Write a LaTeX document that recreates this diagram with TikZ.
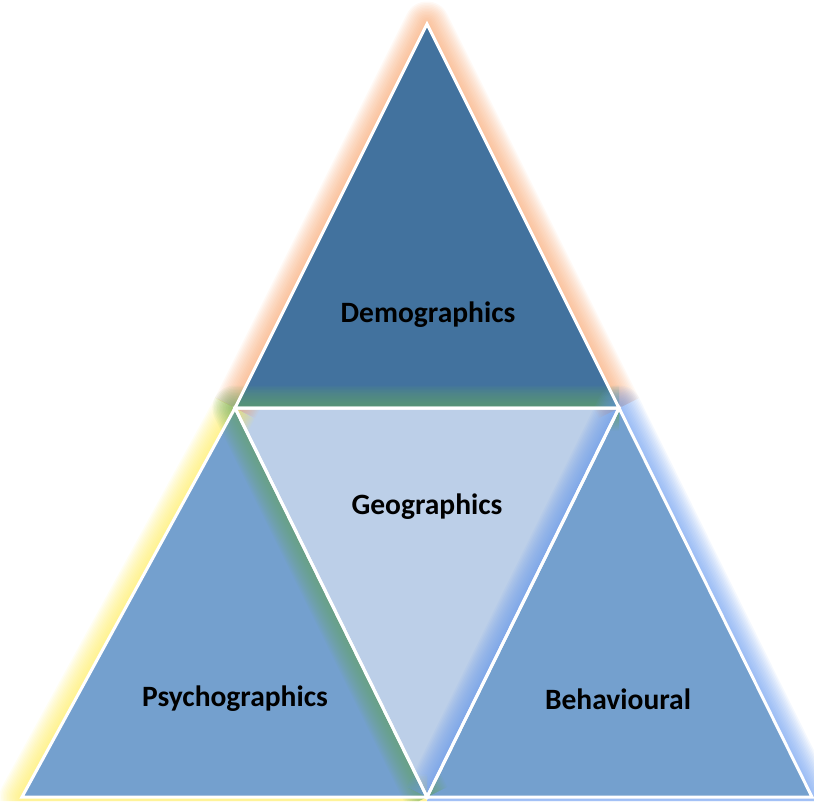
\documentclass[tikz,border=0pt]{standalone}
\usepackage{fontspec}
\setmainfont{Carlito}
\definecolor{topblue}{RGB}{66,114,158}
\definecolor{sideblue}{RGB}{116,160,206}
\definecolor{midblue}{RGB}{188,207,232}
\definecolor{glowor}{RGB}{248,165,110}
\definecolor{glowye}{RGB}{255,236,90}
\definecolor{glowgr}{RGB}{105,172,105}
\definecolor{glowbl}{RGB}{105,155,240}
\tikzset{
  tri/.style={line width=3pt, draw=white, line join=miter},
  lbl/.style={font=\fontsize{29.5}{34}\selectfont\bfseries, text=black},
}
\newcommand{\myglow}[2]{%
  \foreach \w in {3,6,...,45} {
    \draw[#1, opacity=0.07, line width=\w pt, line join=round, line cap=butt] #2;
  }%
}
\begin{document}
\begin{tikzpicture}[x=1pt,y=-1pt]
\useasboundingbox (0,0) rectangle (814,801);
\coordinate (P) at (427,24);
\coordinate (L) at (235,408);
\coordinate (R) at (619,408);
\coordinate (BL) at (22,797);
\coordinate (BM) at (427,797);
\coordinate (BR) at (812,797);
% fills
\fill[topblue] (P) -- (L) -- (R) -- cycle;
\fill[midblue] (L) -- (BM) -- (R) -- cycle;
\fill[sideblue] (L) -- (BL) -- (BM) -- cycle;
\fill[sideblue] (R) -- (BM) -- (BR) -- cycle;
% glows
\begin{scope}
  \clip (0,0) -- (814,0) -- (814,801) -- (0,801) -- cycle (P) -- (L) -- (R) -- cycle;
  \myglow{glowor}{(L) -- (P) -- (R)}
\end{scope}
\begin{scope}
  \clip (0,0) -- (814,0) -- (814,801) -- (0,801) -- cycle (L) -- (BL) -- (BM) -- cycle;
  \myglow{glowye}{(L) -- (BL) -- (BM)}
\end{scope}
\begin{scope}
  \clip (0,0) -- (814,0) -- (814,801) -- (0,801) -- cycle (L) -- (BM) -- (R) -- cycle;
  \myglow{glowgr}{(R) -- (L) -- (BM)}
\end{scope}
\begin{scope}
  \clip (0,0) -- (814,0) -- (814,801) -- (0,801) -- cycle (R) -- (BM) -- (BR) -- cycle;
  \myglow{glowbl}{(BM) -- (R) -- (BR) -- (BM)}
\end{scope}
% borders
\draw[tri] (P) -- (L) -- (R) -- cycle;
\draw[tri] (L) -- (BM) -- (R) -- cycle;
\draw[tri] (L) -- (BL) -- (BM) -- cycle;
\draw[tri] (R) -- (BM) -- (BR) -- cycle;
% labels
\node[lbl] (demo) at (428,315) {Demographics};
\node[lbl] (geo) at (427,507) {Geographics};
\node[lbl] (psy) at (235,699) {Psychographics};
\node[lbl] (beh) at (618,699) {Behavioural};
\end{tikzpicture}
\end{document}
